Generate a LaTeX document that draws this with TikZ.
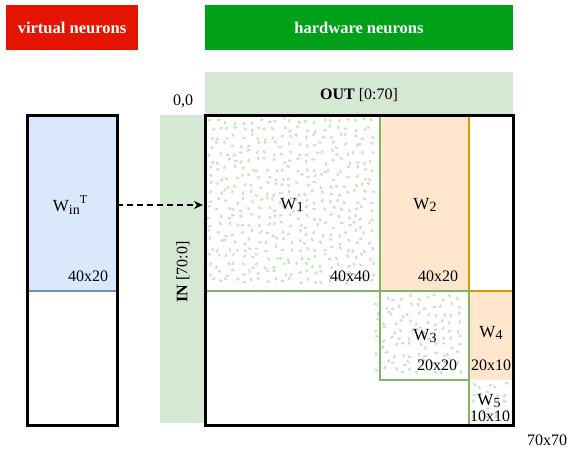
\documentclass[tikz,border=0pt]{standalone}
\usepackage{fontspec}
\setmainfont{Liberation Serif}
\usetikzlibrary{arrows.meta}
\definecolor{vred}{HTML}{E51400}
\definecolor{hgreen}{HTML}{00A018}
\definecolor{bandgreen}{HTML}{D5E8D4}
\definecolor{edgegreen}{HTML}{82B366}
\definecolor{speck}{HTML}{C8E3C3}
\definecolor{vblue}{HTML}{DAE8FC}
\definecolor{edgeblue}{HTML}{6C8EBF}
\definecolor{worange}{HTML}{FFE6CC}
\definecolor{edgeorange}{HTML}{D79B00}
\tikzset{
    header/.style={text=white, font=\fontsize{16.5}{18}\selectfont\bfseries, inner sep=0pt},
    band/.style={fill=bandgreen, draw=none},
    frame/.style={draw=black, line width=3pt},
    blockedge/.style={draw=edgegreen, line width=1.5pt},
    halfedge/.style={draw=edgeorange, line width=1.5pt},
    lbl/.style={font=\fontsize{16}{18}\selectfont, inner sep=0pt},
    wlbl/.style={font=\fontsize{17}{19}\selectfont, inner sep=0pt},
    map/.style={-{Stealth[length=9pt,width=8pt]}, dash pattern=on 6pt off 4pt, line width=1.6pt}
}
% jittered specks on an 8px grid: x0, y0, columns, rows
\newcommand{\specks}[4]{%
    \foreach \i in {0,...,#3}{
        \foreach \j in {0,...,#4}{
            \pgfmathsetmacro{\px}{#1+8*\i+rnd*6}
            \pgfmathsetmacro{\py}{#2+8*\j+rnd*6}
            \pgfmathsetmacro{\pa}{rnd*180}
            \fill[speck, rotate around={\pa:(\px,\py)}] (\px-1.6,\py-1) rectangle (\px+1.6,\py+1);
        }
    }%
}
\newcommand{\wsub}[1]{\raisebox{-0.35ex}{\fontsize{14}{14}\selectfont #1}}
\begin{document}
\begin{tikzpicture}[x=1pt, y=-1pt]
    \useasboundingbox (0,0) rectangle (568,451);
    \pgfmathsetseed{42}
    % headers
    \fill[vred] (6,5) rectangle (138,50);
    \node[header] (virt) at (72,28) {virtual neurons};
    \fill[hgreen] (205,5) rectangle (513,50);
    \node[header] (hw) at (359,28) {hardware neurons};
    % index bands
    \fill[band] (205,72) rectangle (513,115);
    \node[lbl] (out) at (359,95) {\textbf{OUT} [0:70]};
    \fill[band] (160,115) rectangle (205,423);
    \node[lbl, rotate=90] (in) at (183,272) {\textbf{IN} [70:0]};
    \node[lbl] (origin) at (183,101) {0,0};
    % virtual weights
    \fill[vblue] (27,115) rectangle (117,291);
    \draw[edgeblue, line width=1.5pt] (27,291) -- (117,291);
    \draw[frame] (27,115) rectangle (117,425);
    \node[wlbl] (win) at (70,205) {W\wsub{in}\raisebox{1.1ex}{\fontsize{12}{12}\selectfont T}};
    \node[lbl] (winsize) at (88,276) {40x20};
    % blocks
    \fill[worange] (380,115) rectangle (469,291);
    \fill[worange] (469,291) rectangle (513,380);
    \specks{208}{118}{20}{20}
    \specks{375}{295}{10}{9}
    \specks{470}{383}{4}{4}
    \draw[halfedge] (469,115) -- (469,291) -- (513,291);
    \draw[blockedge] (205,291) -- (380,291) -- (380,115);
    \draw[blockedge] (380,291) rectangle (469,380);
    \draw[blockedge] (469,380) -- (469,425);
    \draw[frame] (205,115) rectangle (513,425);
    \node[wlbl] (w1) at (292,205) {W\wsub{1}};
    \node[lbl] (s1) at (350,276) {40x40};
    \node[wlbl] (w2) at (425,205) {W\wsub{2}};
    \node[lbl] (s2) at (438,276) {40x20};
    \node[wlbl] (w3) at (425,336) {W\wsub{3}};
    \node[lbl] (s3) at (437,365) {20x20};
    \node[wlbl] (w4) at (491,333) {W\wsub{4}};
    \node[lbl] (s4) at (491,365) {20x10};
    \node[wlbl] (w5) at (489,401) {W\wsub{5}};
    \node[lbl] (s5) at (490,416) {10x10};
    \node[lbl] (size) at (547,440) {70x70};
    % mapping arrow
    \coordinate (src) at (117,205);
    \coordinate (dst) at (203,205);
    \draw[map] (src) -- (dst);
\end{tikzpicture}
\end{document}
